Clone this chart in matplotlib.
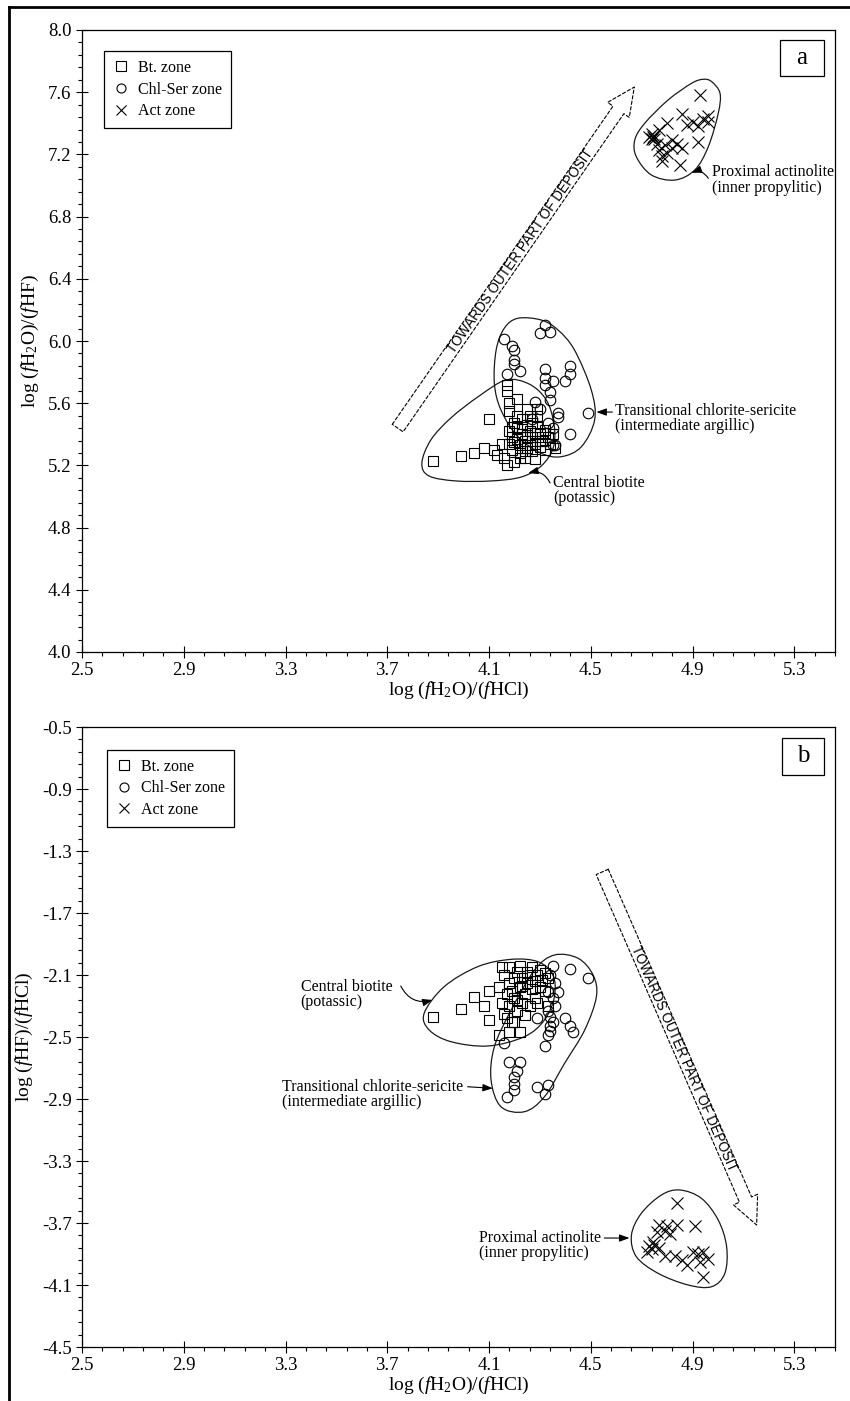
import matplotlib
matplotlib.use("Agg")
import matplotlib.pyplot as plt
import numpy as np
from matplotlib.path import Path
from matplotlib.patches import PathPatch, Rectangle
from matplotlib.lines import Line2D
from matplotlib.ticker import FixedLocator

plt.rcParams["font.family"] = ["Liberation Serif", "DejaVu Serif"]
plt.rcParams["mathtext.fontset"] = "custom"
plt.rcParams["mathtext.rm"] = "Liberation Serif"
plt.rcParams["mathtext.it"] = "Liberation Serif:italic"
plt.rcParams["axes.unicode_minus"] = False

# ---------------- panel a : log(fH2O/fHCl) vs log(fH2O/fHF)
bt_a_x = [3.88, 3.99, 4.04, 4.08, 4.10, 4.12, 4.13, 4.15, 4.16, 4.17, 4.17, 4.17, 4.18, 4.18,
          4.18, 4.19, 4.19, 4.20, 4.20, 4.20, 4.21, 4.21, 4.22, 4.22, 4.23, 4.23, 4.24, 4.24,
          4.25, 4.25, 4.26, 4.26, 4.27, 4.27, 4.28, 4.28, 4.29, 4.29, 4.30, 4.30, 4.31, 4.32,
          4.32, 4.33, 4.34, 4.35, 4.36, 4.19, 4.21, 4.23, 4.25, 4.27, 4.22, 4.26, 4.30, 4.18,
          4.24, 4.28, 4.21, 4.25, 4.29, 4.32]
bt_a_y = [5.23, 5.26, 5.28, 5.31, 5.50, 5.30, 5.27, 5.34, 5.25, 5.72, 5.68, 5.20, 5.60, 5.55,
          5.42, 5.38, 5.30, 5.47, 5.35, 5.22, 5.52, 5.44, 5.33, 5.28, 5.50, 5.40, 5.36, 5.25,
          5.46, 5.31, 5.52, 5.42, 5.38, 5.29, 5.34, 5.24, 5.52, 5.45, 5.40, 5.32, 5.36, 5.43,
          5.30, 5.38, 5.34, 5.40, 5.31, 5.45, 5.37, 5.45, 5.38, 5.47, 5.25, 5.33, 5.36, 5.34,
          5.29, 5.41, 5.63, 5.56, 5.56, 5.41]

chl_a_x = [4.32, 4.30, 4.34, 4.16, 4.19, 4.20, 4.20, 4.20, 4.22, 4.17, 4.32, 4.42, 4.42, 4.32,
           4.35, 4.40, 4.32, 4.34, 4.34, 4.28, 4.37, 4.37, 4.49, 4.35, 4.42, 4.35, 4.30, 4.33,
           4.36, 4.27]
chl_a_y = [6.10, 6.05, 6.06, 6.01, 5.97, 5.94, 5.88, 5.85, 5.81, 5.79, 5.82, 5.84, 5.79, 5.76,
           5.74, 5.74, 5.72, 5.67, 5.62, 5.61, 5.54, 5.51, 5.54, 5.44, 5.40, 5.33, 5.56, 5.47,
           5.33, 5.50]

act_a_x = [4.93, 4.86, 4.80, 4.77, 4.74, 4.73, 4.85, 4.92, 4.90, 4.94, 4.96, 4.96, 4.88, 4.92,
           4.82, 4.79, 4.82, 4.77, 4.78, 4.80, 4.84, 4.76, 4.78, 4.86, 4.75, 4.745, 4.75, 4.74]
act_a_y = [7.58, 7.46, 7.40, 7.36, 7.33, 7.31, 7.13, 7.28, 7.41, 7.43, 7.45, 7.41, 7.39, 7.38,
           7.29, 7.26, 7.24, 7.23, 7.19, 7.21, 7.27, 7.27, 7.16, 7.24, 7.30, 7.315, 7.32, 7.30]

# hand-drawn zone outlines (vertices)
bt_env_a_x = [3.836, 3.871, 3.950, 4.061, 4.167, 4.258, 4.325, 4.356, 4.352, 4.305, 4.226, 4.108, 3.970, 3.864]
bt_env_a_y = [5.215, 5.363, 5.505, 5.646, 5.749, 5.723, 5.621, 5.460, 5.312, 5.196, 5.125, 5.100, 5.100, 5.132]
chl_env_a_x = [4.213, 4.305, 4.371, 4.436, 4.502, 4.515, 4.463, 4.384, 4.305, 4.213, 4.147, 4.121, 4.128, 4.160]
chl_env_a_y = [6.146, 6.135, 6.071, 5.942, 5.685, 5.492, 5.320, 5.256, 5.278, 5.385, 5.556, 5.728, 5.942, 6.082]
act_env_a_x = [4.975, 5.008, 5.001, 4.962, 4.909, 4.830, 4.738, 4.679, 4.673, 4.712, 4.804, 4.896, 4.942]
act_env_a_y = [7.668, 7.593, 7.464, 7.250, 7.100, 7.035, 7.068, 7.185, 7.293, 7.400, 7.550, 7.657, 7.683]

# ---------------- panel b : log(fH2O/fHCl) vs log(fHF/fHCl)
bt_b_x = [3.88, 3.99, 4.04, 4.08, 4.10, 4.10, 4.14, 4.18, 4.22, 4.33, 4.29,
          4.14, 4.15, 4.16, 4.16, 4.17, 4.18, 4.18, 4.18, 4.19, 4.20, 4.20, 4.21, 4.21, 4.22,
          4.22, 4.23, 4.23, 4.24, 4.24, 4.25, 4.25, 4.26, 4.26, 4.27, 4.27, 4.28, 4.28, 4.29,
          4.30, 4.30, 4.31, 4.32, 4.32, 4.19, 4.21, 4.23, 4.17, 4.20, 4.15, 4.33]
bt_b_y = [-2.37, -2.32, -2.24, -2.30, -2.39, -2.20, -2.49, -2.47, -2.47, -2.30, -2.28,
          -2.18, -2.28, -2.10, -2.35, -2.22, -2.05, -2.15, -2.30, -2.40, -2.12, -2.25, -2.08,
          -2.33, -2.18, -2.04, -2.28, -2.12, -2.22, -2.36, -2.08, -2.15, -2.30, -2.10, -2.19,
          -2.05, -2.14, -2.25, -2.10, -2.18, -2.07, -2.13, -2.20, -2.09, -2.20, -2.26, -2.17,
          -2.38, -2.40, -2.05, -2.12]

chl_b_x = [4.35, 4.42, 4.49, 4.36, 4.37, 4.33, 4.34, 4.34, 4.29, 4.40, 4.42, 4.43, 4.33,
           4.32, 4.16, 4.18, 4.22, 4.21, 4.20, 4.20, 4.20, 4.17, 4.29, 4.33, 4.32, 4.34,
           4.35, 4.36, 4.33, 4.35, 4.34]
chl_b_y = [-2.04, -2.06, -2.12, -2.15, -2.21, -2.21, -2.37, -2.43, -2.38, -2.38, -2.43,
           -2.47, -2.49, -2.56, -2.54, -2.66, -2.66, -2.72, -2.76, -2.80, -2.84, -2.89, -2.82,
           -2.81, -2.87, -2.10, -2.25, -2.30, -2.33, -2.40, -2.46]

act_b_x = [4.84, 4.91, 4.84, 4.80, 4.79, 4.77, 4.81, 4.76, 4.73, 4.74, 4.75, 4.72, 4.77,
           4.79, 4.745, 4.86, 4.88, 4.90, 4.92, 4.94, 4.96, 4.93, 4.94, 4.83]
act_b_y = [-3.57, -3.72, -3.71, -3.72, -3.75, -3.71, -3.77, -3.76, -3.85, -3.87, -3.84,
           -3.89, -3.86, -3.91, -3.82, -3.94, -3.97, -3.89, -3.90, -3.89, -3.93, -3.95, -4.05,
           -3.91]

bt_env_b_x = [3.845, 3.924, 4.056, 4.187, 4.292, 4.351, 4.357, 4.318, 4.239, 4.095, 3.950, 3.865]
bt_env_b_y = [-2.347, -2.175, -2.046, -1.999, -2.014, -2.100, -2.240, -2.390, -2.498, -2.558, -2.530, -2.455]
chl_env_b_x = [4.357, 4.450, 4.509, 4.522, 4.476, 4.397, 4.318, 4.239, 4.147, 4.108, 4.121, 4.187, 4.279]
chl_env_b_y = [-1.971, -1.992, -2.100, -2.240, -2.455, -2.670, -2.885, -2.982, -2.950, -2.777, -2.563, -2.326, -2.068]
act_env_b_x = [4.850, 4.935, 5.001, 5.034, 5.027, 4.975, 4.883, 4.765, 4.679, 4.660, 4.699, 4.778]
act_env_b_y = [-3.487, -3.541, -3.681, -3.853, -4.025, -4.111, -4.100, -4.025, -3.917, -3.777, -3.637, -3.519]

x_ticks = [2.5, 2.9, 3.3, 3.7, 4.1, 4.5, 4.9, 5.3]
y_ticks_a = [4.0, 4.4, 4.8, 5.2, 5.6, 6.0, 6.4, 6.8, 7.2, 7.6, 8.0]
y_ticks_b = [-4.5, -4.1, -3.7, -3.3, -2.9, -2.5, -2.1, -1.7, -1.3, -0.9, -0.5]

legend_labels = ["Bt. zone", "Chl-Ser zone", "Act zone"]
arrow_text = "TOWARDS OUTER PART OF DEPOSIT"
xlabel = r"log ($\it{f}$H$_2$O)/($\it{f}$HCl)"


def closed_curve(xs, ys):
    # smooth closed outline through the vertices (Catmull-Rom as cubic Bezier)
    p = np.column_stack([xs, ys])
    n = len(p)
    verts = [p[0]]
    codes = [Path.MOVETO]
    for i in range(n):
        p0, p1, p2, p3 = p[i - 1], p[i], p[(i + 1) % n], p[(i + 2) % n]
        verts += [p1 + (p2 - p0) / 6, p2 - (p3 - p1) / 6, p2]
        codes += [Path.CURVE4] * 3
    return Path(verts, codes)


def draw_envelope(ax, xs, ys):
    ax.add_patch(PathPatch(closed_curve(xs, ys), fc="none", ec="#1a1a1a", lw=0.9, zorder=2))


def setup_axes(ax, ylim, yticks, ylabel):
    ax.set_xlim(2.5, 5.46)
    ax.set_ylim(*ylim)
    ax.set_xticks(x_ticks)
    ax.set_xticklabels([f"{v:.1f}" for v in x_ticks])
    ax.set_yticks(yticks)
    ax.set_yticklabels([f"{v:.1f}" for v in yticks])
    ax.xaxis.set_minor_locator(FixedLocator(np.round(np.arange(2.5, 5.47, 0.08), 3)))
    ax.yaxis.set_minor_locator(FixedLocator(np.round(np.arange(ylim[0], ylim[1] + 0.001, 0.08), 3)))
    ax.tick_params(which="major", direction="inout", length=9, width=0.8, labelsize=13.5, pad=3)
    ax.tick_params(which="minor", direction="out", length=3, width=0.8)
    for sp in ax.spines.values():
        sp.set_linewidth(0.9)
    ax.set_xlabel(xlabel, fontsize=14, labelpad=0)
    ax.set_ylabel(ylabel, fontsize=14, labelpad=5)


def plot_points(ax, bx, by, cx, cy, ax_, ay_):
    ax.plot(bx, by, ls="none", marker="s", ms=7.4, mfc="none", mec="k", mew=0.8, zorder=3)
    ax.plot(cx, cy, ls="none", marker="o", ms=7.6, mfc="none", mec="k", mew=0.8, zorder=3)
    ax.plot(ax_, ay_, ls="none", marker="x", ms=8.2, mec="k", mew=0.8, zorder=3)


def add_legend(ax, anchor):
    handles = [
        Line2D([], [], ls="none", marker="s", ms=6.5, mfc="none", mec="k", mew=0.8),
        Line2D([], [], ls="none", marker="o", ms=6.5, mfc="none", mec="k", mew=0.8),
        Line2D([], [], ls="none", marker="x", ms=7.5, mec="k", mew=0.8),
    ]
    leg = ax.legend(handles, legend_labels, loc="upper left", bbox_to_anchor=anchor,
                    borderaxespad=0, fontsize=11.5, fancybox=False, framealpha=1,
                    edgecolor="black", handlelength=1.0, handletextpad=0.6,
                    labelspacing=0.35, borderpad=0.55)
    leg.get_frame().set_linewidth(0.9)


def panel_letter(ax, letter, x0, y0, x1, y1):
    ax.add_patch(Rectangle((x0, y0), x1 - x0, y1 - y0, transform=ax.transAxes,
                           fc="white", ec="black", lw=0.9, zorder=5))
    ax.text((x0 + x1) / 2, (y0 + y1) / 2, letter, transform=ax.transAxes,
            ha="center", va="center", fontsize=18, zorder=6)


def deposit_arrow(ax, tail, tip, frac):
    tail = np.array(tail)
    tip = np.array(tip)
    ax.annotate("", xy=tip, xytext=tail,
                arrowprops=dict(arrowstyle="simple,head_length=2.0,head_width=1.9,tail_width=0.95",
                                fc="none", ec="black", lw=0.8, ls=(0, (3, 2)),
                                shrinkA=0, shrinkB=0, mutation_scale=10))
    d0 = ax.transData.transform(tail)
    d1 = ax.transData.transform(tip)
    ang = np.degrees(np.arctan2(d1[1] - d0[1], d1[0] - d0[0]))
    if ang > 90:
        ang -= 180
    if ang < -90:
        ang += 180
    mid = tail + frac * (tip - tail)
    ax.text(mid[0], mid[1], arrow_text, rotation=ang, rotation_mode="anchor",
            ha="center", va="center", family=["Liberation Sans", "DejaVu Sans"], fontsize=9.8)


def label(ax, text, pos, start, tip, rad=0.0, ha="left"):
    ax.text(pos[0], pos[1], text, ha=ha, va="center", multialignment="left",
            fontsize=11.5, linespacing=0.95)
    ax.annotate("", xy=tip, xytext=start,
                arrowprops=dict(arrowstyle="-|>,head_length=0.6,head_width=0.22",
                                connectionstyle=f"arc3,rad={rad}", color="black", lw=0.8,
                                shrinkA=0, shrinkB=0, mutation_scale=10))


fig = plt.figure(figsize=(8.5, 14.01), dpi=100)
fig.patch.set_facecolor("white")

ax_a = fig.add_axes([82 / 850, 1 - 652 / 1401, 753 / 850, 622 / 1401])
ax_b = fig.add_axes([82 / 850, 1 - 1347 / 1401, 753 / 850, 620 / 1401])

setup_axes(ax_a, (4.0, 8.0), y_ticks_a, r"log ($\it{f}$H$_2$O)/($\it{f}$HF)")
setup_axes(ax_b, (-4.5, -0.5), y_ticks_b, r"log ($\it{f}$HF)/($\it{f}$HCl)")

# panel a
draw_envelope(ax_a, bt_env_a_x, bt_env_a_y)
draw_envelope(ax_a, chl_env_a_x, chl_env_a_y)
draw_envelope(ax_a, act_env_a_x, act_env_a_y)
plot_points(ax_a, bt_a_x, bt_a_y, chl_a_x, chl_a_y, act_a_x, act_a_y)
add_legend(ax_a, (0.029, 0.966))
panel_letter(ax_a, "a", 0.927, 0.926, 0.985, 0.984)
deposit_arrow(ax_a, (3.741, 5.440), (4.671, 7.633), 0.52)
label(ax_a, "Proximal actinolite\n(inner propylitic)", (4.975, 7.035), (4.962, 7.046), (4.896, 7.082), rad=0.4)
label(ax_a, "Transitional chlorite-sericite\n(intermediate argillic)", (4.597, 5.50), (4.585, 5.543), (4.522, 5.543))
label(ax_a, "Central biotite\n(potassic)", (4.352, 5.04), (4.340, 5.087), (4.254, 5.151), rad=0.4)

# panel b
draw_envelope(ax_b, bt_env_b_x, bt_env_b_y)
draw_envelope(ax_b, chl_env_b_x, chl_env_b_y)
draw_envelope(ax_b, act_env_b_x, act_env_b_y)
plot_points(ax_b, bt_b_x, bt_b_y, chl_b_x, chl_b_y, act_b_x, act_b_y)
add_legend(ax_b, (0.033, 0.963))
panel_letter(ax_b, "b", 0.930, 0.923, 0.985, 0.982)
deposit_arrow(ax_b, (4.545, -1.435), (5.152, -3.713), 0.53)
label(ax_b, "Central biotite\n(potassic)", (3.72, -2.225), (3.753, -2.171), (3.878, -2.261), rad=0.4, ha="right")
label(ax_b, "Transitional chlorite-sericite\n(intermediate argillic)", (4.00, -2.87), (4.016, -2.821), (4.115, -2.831), ha="right")
label(ax_b, "Proximal actinolite\n(inner propylitic)", (4.541, -3.845), (4.553, -3.797), (4.652, -3.797), ha="right")

# outer frame (left and top edges only)
fig.add_artist(Line2D([9 / 850, 9 / 850], [0, 1 - 7 / 1401], transform=fig.transFigure, color="black", lw=2))
fig.add_artist(Line2D([9 / 850, 1], [1 - 7 / 1401, 1 - 7 / 1401], transform=fig.transFigure, color="black", lw=2))

fig.savefig("out.png", dpi=100)
